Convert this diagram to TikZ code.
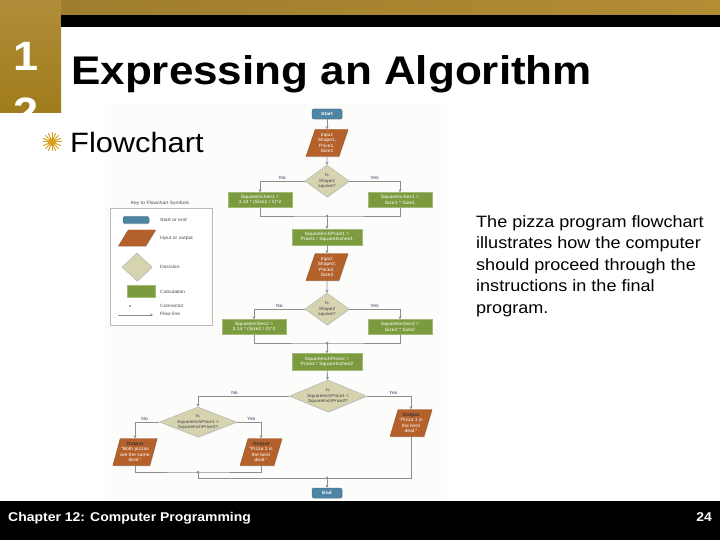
\documentclass[tikz,border=0pt]{standalone}
\usepackage{fontspec}
\setmainfont{Liberation Sans}[FakeStretch=1.1]
\usetikzlibrary{shapes.geometric,arrows.meta,shadows}
\definecolor{goldA}{HTML}{9C7C2C}
\definecolor{goldB}{HTML}{847A62}
\definecolor{goldC}{HTML}{B38C34}
\definecolor{goldL1}{HTML}{B08D38}
\definecolor{goldL2}{HTML}{A07C1C}
\definecolor{fcblue}{HTML}{4E84A4}
\definecolor{fcorange}{HTML}{B5612C}
\definecolor{fctan}{HTML}{D6D3AF}
\definecolor{fcgreen}{HTML}{7B9B3E}
\definecolor{fcline}{HTML}{8E8E8E}
\definecolor{fclabel}{HTML}{2B3F6B}
\definecolor{sunc}{HTML}{D9A01E}
\definecolor{fcbg}{HTML}{FCFCFA}
\newcommand\fcfont{\fontsize{4.6}{5.6}\selectfont}
\newcommand\dfont{\fontsize{4.3}{5.3}\selectfont}
\begin{document}
\begin{tikzpicture}[x=1pt,y=-1pt,
  shad/.style={drop shadow={opacity=0.25,shadow xshift=0.8pt,shadow yshift=-0.8pt}},
  term/.style={rounded corners=2pt,fill=fcblue,draw=fcblue!80!black,text=white,font=\fcfont\bfseries,minimum width=30pt,minimum height=10pt,inner sep=0pt,shad},
  io/.style={trapezium,trapezium left angle=70,trapezium right angle=110,trapezium stretches=true,fill=fcorange,draw=fcorange!80!black,minimum width=42pt,minimum height=27pt,inner sep=0pt,align=center,text=white,font=\fcfont,shad},
  dec/.style={diamond,aspect=1.4,fill=fctan,draw=fcline!70,minimum width=44pt,minimum height=32pt,inner sep=0pt,align=center,font=\dfont,text=black!75,shad},
  bigdec/.style={dec,aspect=2.4,inner sep=-2.5pt,minimum width=77pt,minimum height=32pt},
  calc/.style={rectangle,fill=fcgreen,draw=fcgreen!70!white,text=white,font=\fcfont,align=center,minimum width=64pt,minimum height=15pt,inner sep=0pt,shad},
  flow/.style={draw=fcline,line width=0.8pt,-{Stealth[length=3pt,width=3pt]}},
  fline/.style={draw=fcline,line width=0.8pt},
  lbl/.style={font=\fcfont,text=fclabel,inner sep=1pt},
  keylbl/.style={font=\fcfont,text=black!70,anchor=west,inner sep=0pt},
  num/.style={font=\fontsize{41}{44}\selectfont\bfseries,text=white,inner sep=0pt}
]
\useasboundingbox (0,0) rectangle (720,540);
\fill[white] (0,0) rectangle (720,540);
% flowchart image background
\fill[fcbg] (105,104) rectangle (447,500);
% decorative frame
\shade[left color=goldA,middle color=goldB,right color=goldC] (0,0) rectangle (720,15);
\shade[top color=goldL1,bottom color=goldL2] (0,0) rectangle (61,112.7);
\fill[black] (61,15) rectangle (720,27.5);
\begin{scope}
\clip (0,0) rectangle (61,112.7);
\node[num,anchor=base west] (n1) at (13,71) {1};
\node[num,anchor=base west] (n2) at (13,127) {2};
\end{scope}
\node[anchor=base west,inner sep=0pt,font=\fontsize{40}{44}\selectfont\bfseries] (title) at (71,85) {Expressing an Algorithm};
% bullet
\foreach \a in {0,22.5,...,337.5} \draw[sunc,line width=1pt] (52,142) -- ++(\a:9.5pt);
\fill[sunc] (52,142) circle (4pt);
\node[anchor=base west,inner sep=0pt,font=\fontsize{28}{32}\selectfont] (bul) at (70,153) {Flowchart};
% paragraph
\node[anchor=north west,inner sep=0pt,align=left,font=\fontsize{16.4}{21.6}\selectfont] (para) at (476,215)
  {The pizza program flowchart\\illustrates how the computer\\should proceed through the\\instructions in the final\\program.};
% footer
\fill[black] (0,501) rectangle (720,540);
\node[anchor=base west,inner sep=0pt,text=white,font=\fontsize{12.7}{14}\selectfont\bfseries] (foot) at (8,521) {Chapter 12: Computer Programming};
\node[anchor=base east,inner sep=0pt,text=white,font=\fontsize{12.7}{14}\selectfont\bfseries] (page) at (712,521) {24};
% key
\node[font=\fcfont,text=black!70] (keyt) at (160,203) {Key to Flowchart Symbols};
\draw[fcline!60,line width=0.8pt,fill=white,shad] (110,208) rectangle (212,325);
\node[term,minimum width=26pt,minimum height=7pt] (k1) at (136,220) {};
\node[keylbl] (k1l) at (160,220) {Start or end};
\node[io,minimum width=37pt,minimum height=16pt,inner sep=1pt,trapezium left angle=60,trapezium right angle=120] (k2) at (137,238) {\phantom{x}};
\node[keylbl] (k2l) at (160,238) {Input or output};
\node[dec,aspect=1,minimum width=30pt,minimum height=28pt,inner sep=1pt] (k3) at (137,267) {\phantom{x}};
\node[keylbl] (k3l) at (160,267) {Decision};
\node[calc,minimum width=28pt,minimum height=12pt] (k4) at (141,291) {};
\node[keylbl] (k4l) at (160,292) {Calculation};
\coordinate (k5) at (130,306);
\fill[fcline] (k5) circle (1.2pt);
\node[keylbl] (k5l) at (160,306) {Connector};
\coordinate (k6a) at (118,315);
\coordinate (k6b) at (153,315);
\draw[flow,line width=0.6pt] (k6a) -- (k6b);
\node[keylbl] (k6l) at (160,314) {Flow line};
% flowchart nodes
\node[term] (start) at (327,114) {Start};
\node[io] (in1) at (327,143) {Input:\\Shape1,\\Price1,\\Size1};
\node[dec] (d1) at (327,181) {Is\\Shape1\\square?};
\node[calc] (c1a) at (260,200) {SquareInches1 =\\3.14 * (Size1 / 2)\textasciicircum 2};
\node[calc] (c1b) at (400,200) {SquareInches1 =\\Size1 * Size1};
\coordinate (m1) at (327,216);
\node[calc,minimum width=70pt,minimum height=16pt] (p1) at (327,237) {SquareInchPrice1 =\\Price1 / SquareInches1};
\node[io] (in2) at (327,267) {Input:\\Shape2,\\Price2,\\Size2};
\node[dec] (d2) at (327,309) {Is\\Shape2\\square?};
\node[calc] (c2a) at (254,327) {SquareInches2 =\\3.14 * (Size2 / 2)\textasciicircum 2};
\node[calc] (c2b) at (400,327) {SquareInches2 =\\Size2 * Size2};
\coordinate (m2) at (327,343);
\node[calc,minimum width=70pt,minimum height=17pt] (p2) at (327,362) {SquareInchPrice2 =\\Price2 / SquareInches2};
\node[bigdec] (d3) at (328,396) {Is\\SquareInchPrice1 <\\SquareInchPrice2?};
\node[io] (out1) at (411,423) {\textcolor{black!80}{\textbf{Output}}\\“Pizza 1 is\\the best\\deal.”};
\node[bigdec,minimum height=30pt] (d4) at (198,422) {Is\\SquareInchPrice1 >\\SquareInchPrice2?};
\node[io] (out2) at (135,452) {\textcolor{black!80}{\textbf{Output}}\\“Both pizzas\\are the same\\deal.”};
\node[io] (out3) at (261,452) {\textcolor{black!80}{\textbf{Output}}\\“Pizza 2 is\\the best\\deal.”};
\coordinate (m3) at (198,472);
\coordinate (m4) at (327,478);
\node[term] (end) at (327,493) {End};
% connectors
\draw[flow] (start) -- (in1);
\draw[flow] (in1) -- (d1);
\draw[flow] (d1.west) -| node[lbl,pos=0.25,above] {No} (c1a.north);
\draw[flow] (d1.east) -| node[lbl,pos=0.25,above] {Yes} (c1b.north);
\draw[fline] (c1a.south) |- (m1) -| (c1b.south);
\fill[fcline] (m1) circle (1.5pt);
\draw[flow] (m1) -- (p1);
\draw[flow] (p1) -- (in2);
\draw[flow] (in2) -- (d2);
\draw[flow] (d2.west) -| node[lbl,pos=0.25,above] {No} (c2a.north);
\draw[flow] (d2.east) -| node[lbl,pos=0.25,above] {Yes} (c2b.north);
\draw[fline] (c2a.south) |- (m2) -| (c2b.south);
\fill[fcline] (m2) circle (1.5pt);
\draw[flow] (m2) -- (p2);
\draw[flow] (p2) -- (d3);
\draw[flow] (d3.west) -| node[lbl,pos=0.3,above] {No} (d4.north);
\draw[flow] (d3.east) -| node[lbl,pos=0.3,above] {Yes} (out1.north);
\draw[flow] (d4.west) -| node[lbl,pos=0.3,above] {No} (out2.north);
\draw[flow] (d4.east) -| node[lbl,pos=0.3,above] {Yes} (out3.north);
\draw[fline] (out2.south) |- (m3) -| (out3.south);
\fill[fcline] (m3) circle (1.5pt);
\draw[fline] (m3) |- (m4);
\draw[fline] (out1.south) |- (m4);
\fill[fcline] (m4) circle (1.5pt);
\draw[flow] (m4) -- (end);
\end{tikzpicture}
\end{document}
